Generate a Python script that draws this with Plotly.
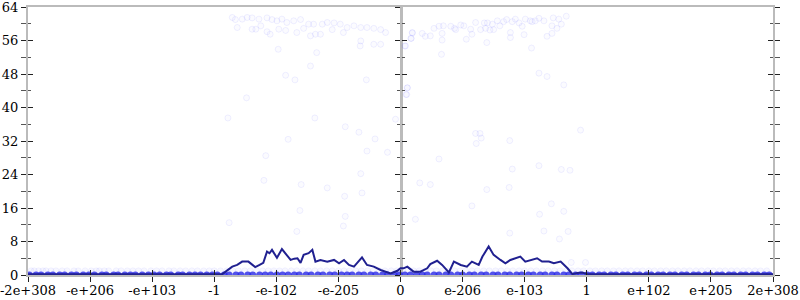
import plotly.graph_objects as go

# ---- axis labels (x axis is the ordering of float values, one unit per tick) ----
tick_pos = [-6, -5, -4, -3, -2, -1, 0, 1, 2, 3, 4, 5, 6]
tick_text = ["-2e+308", "-e+206", "-e+103", "-1", "-e-102", "-e-205", "0",
             "e-206", "e-103", "1", "e+102", "e+205", "2e+308"]
y_ticks = [0, 8, 16, 24, 32, 40, 48, 56, 64]
y_minor = [4, 12, 20, 28, 36, 44, 52, 60]

# ---- scattered high-error samples ----
hi_x = [-2.71, -2.66, -2.55, -2.47, -2.39, -2.28, -2.15, -2.07, -1.99, -1.91, -1.83, -1.72,
        -1.61, -1.48, -1.40, -1.26, -1.18, -1.07, -0.97, -0.86, -0.75, -0.64, -0.54, -0.43,
        -0.32, -0.24, -2.63, -2.39, -2.33, -2.25, -2.15, -2.10, -1.96, -1.85, -1.67, -1.56,
        -1.45, -1.37, -1.29, -1.10, -0.92, -0.64, -0.65, -0.43, -0.32, -1.97, -1.35, -1.45,
        -1.85, -1.70, -0.55, -2.48, -2.78, -1.38, -0.89, -0.67, -0.41, -1.81, -0.08, 0.11,
        0.09, 0.07, 0.17, 0.19,
        0.08, 0.11, 0.10, 0.19, 0.17, 0.35, 0.40, 0.48, 0.54, 0.62, 0.69, 0.67, 0.67, 0.81,
        0.87, 0.89, 0.97, 1.02, 1.13, 1.15, 1.21, 1.29, 1.35, 1.37, 1.40, 1.44, 1.48, 1.50,
        1.56, 1.60, 1.66, 1.71, 1.77, 1.77, 1.80, 1.85, 1.91, 1.96, 1.99, 2.01, 2.09, 2.12,
        2.17, 2.23, 2.31, 2.36, 2.44, 2.46, 2.44, 2.52, 2.55, 2.59, 2.67, 0.66, 1.06, 1.39,
        2.11, 2.23, 2.36, 2.63, 2.90, 1.21, 1.28, 1.30, 1.22, 1.76,
        -2.17, -2.20, -1.60, -1.18, -0.90, -0.62, -0.64, -0.54, -0.21, -1.62, -2.76, -0.89,
        -0.92, -1.67,
        0.62, 0.31, 0.48, 0.24, 1.15, 1.39, 1.75, 1.80, 2.23, 2.59, 2.73, 2.43, 2.63, 2.24,
        1.76, 2.31, 2.56, 2.70, 2.98, 2.75]
hi_y = [61.5, 61.0, 61.1, 61.5, 61.4, 61.1, 61.4, 61.0, 60.7, 61.1, 60.3, 60.7,
        61.0, 59.9, 59.9, 59.9, 60.3, 60.2, 59.9, 59.1, 59.5, 59.1, 59.1, 58.9,
        58.6, 57.9, 59.1, 58.7, 58.7, 59.5, 58.1, 57.5, 58.7, 58.4, 57.9, 58.9,
        57.1, 57.5, 57.5, 58.6, 57.9, 55.9, 54.7, 55.1, 55.1, 53.9, 53.1, 49.9,
        47.7, 46.6, 46.6, 42.3, 37.5, 37.5, 35.4, 34.1, 32.5, 32.4, 37.2, 44.7,
        43.1, 54.7, 56.5, 57.9,
        54.7, 44.7, 43.1, 57.8, 56.5, 57.7, 57.0, 57.1, 58.9, 59.4, 59.5, 57.7, 56.1, 59.4,
        58.9, 58.6, 59.7, 59.5, 58.7, 57.5, 60.3, 58.6, 60.2, 58.9, 60.2, 58.5, 59.9, 58.6,
        60.7, 59.5, 60.5, 61.0, 57.9, 56.7, 60.5, 61.1, 60.2, 59.4, 57.4, 61.1, 60.7, 60.5,
        60.7, 61.3, 60.7, 57.0, 59.5, 61.4, 57.7, 58.9, 61.1, 59.9, 61.8, 52.7, 56.3, 55.5,
        54.2, 48.2, 47.4, 45.4, 34.6, 33.8, 33.8, 32.7, 31.4, 32.1,
        28.5, 22.6, 21.6, 20.8, 18.8, 19.6, 24.2, 29.6, 29.3, 15.4, 12.5, 14.0,
        11.7, 10.4,
        27.7, 22.0, 21.6, 13.3, 16.5, 20.4, 20.9, 25.3, 26.1, 25.2, 25.0, 17.0, 15.2, 14.5,
        10.0, 10.5, 8.6, 10.4, 3.0, 3.0]

# ---- samples with error 0 and error 1 ----
zero_x = [-5.98, -5.87, -5.79, -5.68, -5.60, -5.49, -5.41, -5.30, -5.22, -5.11, -5.02, -4.93,
          -4.81, -4.74, -4.62, -4.55, -4.44, -4.35, -4.27, -4.16, -4.06, -3.97, -3.88, -3.77,
          -3.70, -3.58, -3.51, -3.40, -3.31, -3.22, -3.12, -3.03, -2.95, -2.84, -2.76, -2.65,
          -2.57, -2.46, -2.38, -2.27, -2.18, -2.09, -1.99, -1.90, -1.81, -1.71, -1.63, -1.52,
          -1.44, -1.33, -1.25, -1.14, -1.06, -0.95, -0.86, -0.78, -0.67, -0.59, -0.48, -0.40,
          -0.29, -0.21, -0.10, -0.02, 0.07, 0.16, 0.26, 0.35, 0.43, 0.54, 0.62, 0.73, 0.81,
          0.92, 1.00, 1.11, 1.19, 1.30, 1.38, 1.49, 1.57, 1.68, 1.76, 1.87, 1.95, 2.06, 2.14,
          2.25, 2.33, 2.44, 2.52, 2.63, 2.71, 2.82, 2.90, 3.01, 3.09, 3.20, 3.28, 3.39, 3.47,
          3.58, 3.66, 3.77, 3.85, 3.96, 4.04, 4.15, 4.23, 4.34, 4.42, 4.53, 4.61, 4.72, 4.80,
          4.91, 4.99, 5.10, 5.18, 5.29, 5.37, 5.48, 5.56, 5.67, 5.75, 5.86, 5.94]
one_x = [-5.95, -5.90, -5.83, -5.76, -5.71, -5.63, -5.55, -5.45, -5.37, -5.26, -5.19, -5.08,
         -4.98, -4.90, -4.85, -4.77, -4.70, -4.58, -4.50, -4.40, -4.31, -4.22, -4.13, -4.02,
         -3.93, -3.84, -3.73, -3.65, -3.55, -3.46, -3.36, -3.27, -3.17, -3.08, -3.00, -2.90,
         -2.80, -2.70, -2.61, -2.51, -2.42, -2.32, -2.22, -2.13, -2.04, -1.95, -1.86, -1.76,
         -1.67, -1.57, -1.48, -1.38, -1.29, -1.19, -1.10, -1.00, -0.91, -0.82, -0.72, -0.63,
         -0.53, -0.44, -0.34, -0.25, -0.15, -0.06, 0.03, 0.12, 0.21, 0.30, 0.40, 0.49, 0.58,
         0.68, 0.77, 0.87, 0.96, 1.05, 1.15, 1.24, 1.34, 1.43, 1.53, 1.62, 1.72, 1.81, 1.91,
         2.00, 2.10, 2.19, 2.29, 2.38, 2.48, 2.57, 2.67, 2.76, 2.86, 2.95, 3.05, 3.14, 3.24,
         3.33, 3.43, 3.52, 3.62, 3.71, 3.81, 3.90, 4.00, 4.09, 4.19, 4.28, 4.38, 4.47, 4.57,
         4.66, 4.76, 4.85, 4.95, 5.04, 5.14, 5.23, 5.33, 5.42, 5.52, 5.61, 5.71, 5.80, 5.90]

# ---- running average error ----
avg_x = [-6.0, -5.0, -4.0, -3.2, -2.95, -2.87, -2.79, -2.71, -2.63, -2.55, -2.45, -2.40,
         -2.34, -2.27, -2.21, -2.15, -2.11, -2.07, -1.99, -1.91, -1.83, -1.77, -1.71, -1.66,
         -1.61, -1.56, -1.48, -1.42, -1.37, -1.29, -1.18, -1.07, -0.99, -0.91, -0.83, -0.75,
         -0.62, -0.54, -0.43, -0.32, -0.16, -0.05, 0.0, 0.05, 0.11, 0.21, 0.32, 0.43, 0.48,
         0.59, 0.67, 0.78, 0.86, 0.97, 1.07, 1.15, 1.26, 1.32, 1.42, 1.50, 1.61, 1.69, 1.77,
         1.85, 1.93, 2.01, 2.12, 2.20, 2.28, 2.39, 2.47, 2.58, 2.69, 2.77, 2.85, 2.93, 3.01,
         3.2, 4.0, 5.0, 6.0]
avg_y = [0.15, 0.15, 0.15, 0.15, 0.15, 0.2, 1.1, 2.0, 2.4, 3.2, 3.2, 2.7,
         1.9, 2.4, 2.9, 5.6, 5.2, 6.0, 4.1, 6.2, 4.8, 3.6, 3.9, 4.0,
         2.9, 4.8, 5.2, 6.0, 3.2, 3.6, 3.2, 3.6, 2.8, 3.6, 2.4, 2.0,
         4.2, 2.4, 2.0, 1.2, 0.4, 1.0, 1.6, 1.6, 2.0, 0.8, 0.8, 1.6, 2.6,
         3.4, 2.4, 0.6, 3.2, 2.4, 2.0, 3.2, 2.4, 4.4, 6.8, 4.8, 3.6, 2.8, 3.6,
         4.0, 4.4, 3.2, 3.6, 4.0, 3.2, 3.2, 2.8, 3.2, 1.6, 0.2, 0.5, 0.6, 0.2,
         0.15, 0.15, 0.15, 0.15]

fig = go.Figure()
pt = dict(size=6, color="rgba(90,90,255,0.025)", line=dict(color="rgba(90,90,255,0.09)", width=1))
fig.add_trace(go.Scatter(x=hi_x, y=hi_y, mode="markers", marker=pt, hoverinfo="skip"))
fig.add_trace(go.Scatter(x=one_x, y=[1] * len(one_x), mode="markers",
                         marker=dict(size=6, color="rgba(90,90,255,0.05)",
                                     line=dict(color="rgba(90,90,255,0.06)", width=1)),
                         hoverinfo="skip"))
fig.add_trace(go.Scatter(x=zero_x, y=[0] * len(zero_x), mode="markers",
                         marker=dict(size=7, color="rgba(40,40,230,0.8)",
                                     line=dict(width=0)),
                         hoverinfo="skip"))
fig.add_trace(go.Scatter(x=avg_x, y=avg_y, mode="lines",
                         line=dict(color="#202090", width=2), hoverinfo="skip"))
# empty traces so that the overlay axes (tick crosses, centre axis) are drawn
for ax in ["y2", "y3", "y4"]:
    fig.add_trace(go.Scatter(x=[None], y=[None], yaxis=ax, mode="markers",
                             hoverinfo="skip", showlegend=False))
fig.add_trace(go.Scatter(x=[None], y=[None], xaxis="x2", mode="markers",
                         hoverinfo="skip", showlegend=False))

tfont = dict(family="DejaVu Serif", size=13, color="#000000")
axis_gray = "#bbbbbb"
tick_col = "#222222"

fig.update_layout(
    width=800, height=300,
    margin=dict(l=28, r=27, t=7, b=25, autoexpand=False),
    plot_bgcolor="white", paper_bgcolor="white",
    showlegend=False,
    xaxis=dict(range=[-6, 6], tickmode="array", tickvals=tick_pos, ticktext=tick_text,
               ticks="outside", ticklen=5, tickwidth=1, tickcolor=tick_col,
               showline=True, linecolor=axis_gray, linewidth=2, mirror=True,
               showgrid=False, zeroline=False, tickfont=tfont, layer="below traces",
               automargin=False, ticklabeloverflow="allow", ticklabelstandoff=-3),
    xaxis2=dict(range=[-6, 6], overlaying="x", anchor="y", tickmode="array",
                tickvals=tick_pos, ticks="inside", ticklen=5, tickwidth=1, tickcolor=tick_col,
                showticklabels=False, showline=False, showgrid=False, zeroline=False,
                automargin=False),
    yaxis=dict(range=[0, 64], tickmode="array", tickvals=y_ticks,
               ticks="outside", ticklen=5, tickwidth=1, tickcolor=tick_col,
               showline=True, linecolor=axis_gray, linewidth=2, mirror="allticks",
               showgrid=False, zeroline=False, tickfont=tfont, layer="below traces",
               automargin=False, ticklabeloverflow="allow",
               minor=dict(tickmode="array", tickvals=y_minor, ticks="outside", ticklen=3,
                          tickcolor="#555555", showgrid=False)),
    yaxis2=dict(range=[0, 64], overlaying="y", anchor="x", tickmode="array", tickvals=y_ticks,
                ticks="inside", ticklen=5, tickwidth=1, tickcolor=tick_col, mirror="allticks",
                showticklabels=False, showline=False, showgrid=False, zeroline=False,
                automargin=False,
                minor=dict(tickmode="array", tickvals=y_minor, ticks="inside", ticklen=3,
                           tickcolor="#555555", showgrid=False)),
    yaxis3=dict(range=[0, 64], overlaying="y", anchor="free", position=0.5, tickmode="array",
                tickvals=y_ticks, ticks="outside", ticklen=5, tickwidth=1, tickcolor=tick_col,
                showticklabels=False, showline=True, linecolor=axis_gray, linewidth=3,
                showgrid=False, zeroline=False, layer="below traces", automargin=False,
                minor=dict(tickmode="array", tickvals=y_minor, ticks="outside", ticklen=3,
                           tickcolor="#555555", showgrid=False)),
    yaxis4=dict(range=[0, 64], overlaying="y", anchor="free", position=0.5, tickmode="array",
                tickvals=y_ticks, ticks="inside", ticklen=5, tickwidth=1, tickcolor=tick_col,
                showticklabels=False, showline=False, showgrid=False, zeroline=False,
                automargin=False,
                minor=dict(tickmode="array", tickvals=y_minor, ticks="inside", ticklen=3,
                           tickcolor="#555555", showgrid=False)),
)

fig.write_html("out.html")
